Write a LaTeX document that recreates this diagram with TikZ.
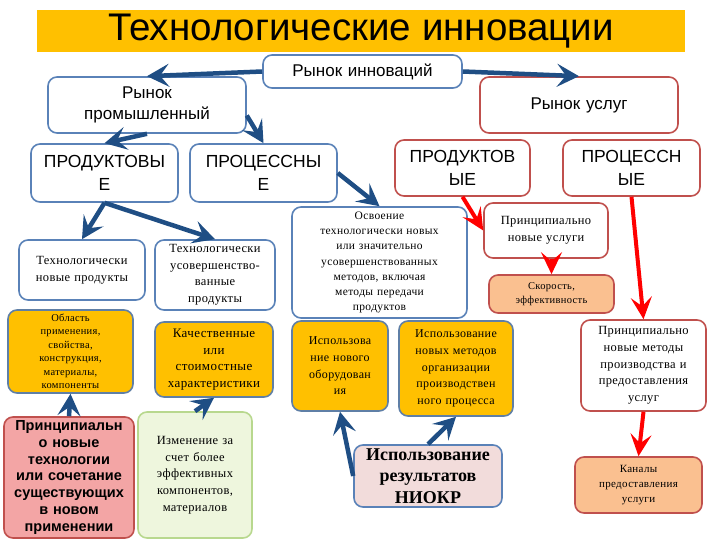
\documentclass[tikz,border=0pt]{standalone}
\usepackage{fontspec}
\setmainfont[LetterSpace=3]{Liberation Serif}
\setsansfont{Liberation Sans}
\usetikzlibrary{arrows.meta}

\definecolor{bordblue}{HTML}{5A82B8}
\definecolor{bordred}{HTML}{C0504D}
\definecolor{bordgray}{HTML}{5F7FA6}
\definecolor{arrowblue}{HTML}{1F4E84}
\definecolor{boxyellow}{HTML}{FFC000}
\definecolor{boxorange}{HTML}{FAC090}
\definecolor{boxpink}{HTML}{F2DCDB}
\definecolor{boxsalmon}{HTML}{F3A5A5}
\definecolor{boxgreen}{HTML}{EEF6DD}
\definecolor{bordgreen}{HTML}{B8D88E}

\begin{document}
\begin{tikzpicture}[
  x=1pt, y=-1pt,
  every node/.style={align=center, inner xsep=3pt, inner ysep=2pt},
  box/.style={draw, rounded corners=9pt, line width=1.6pt, fill=white},
  blbox/.style={box, draw=bordblue},
  rdbox/.style={box, draw=bordred},
  ylbox/.style={box, draw=bordgray, fill=boxyellow},
  orbox/.style={box, draw=bordred, fill=boxorange},
  blarrow/.style={-{Stealth[length=22pt, width=23pt, inset=9pt]}, line width=4.5pt, draw=arrowblue},
  rdarrow/.style={-{Stealth[length=22pt, width=21pt, inset=9pt]}, line width=4pt, draw=red}
]
\useasboundingbox (0,0) rectangle (720,540);

% Title
\fill[boxyellow] (37,10) rectangle (685,52);
\node[font=\sffamily\fontsize{38.5}{40}\selectfont] (title) at (361,31) {Технологические инновации};

% Markets
\node[blbox, text width=193pt, minimum height=33pt, font=\sffamily\fontsize{17}{20}\selectfont] (rinn) at (362.5,71.5) {Рынок инноваций};
\node[blbox, text width=192pt, minimum height=56pt, font=\sffamily\fontsize{17}{21}\selectfont] (rprom) at (147,105) {Рынок\\промышленный};
\node[rdbox, text width=192pt, minimum height=56pt, font=\sffamily\fontsize{17}{21}\selectfont] (ruslug) at (579,105) {Рынок услуг};

% Types
\node[blbox, text width=141pt, minimum height=58pt, font=\sffamily\fontsize{17.5}{23}\selectfont] (prodL) at (104.5,173) {ПРОДУКТОВЫ\\Е};
\node[blbox, text width=141pt, minimum height=58pt, font=\sffamily\fontsize{17.5}{23}\selectfont] (procL) at (263.5,173) {ПРОЦЕССНЫ\\Е};
\node[rdbox, text width=129pt, minimum height=56pt, font=\sffamily\fontsize{17.5}{23}\selectfont] (prodR) at (462.5,168) {ПРОДУКТОВ\\ЫЕ};
\node[rdbox, text width=131pt, minimum height=56pt, font=\sffamily\fontsize{17.5}{23}\selectfont] (procR) at (631.5,168) {ПРОЦЕССН\\ЫЕ};

% Product branch
\node[blbox, text width=120pt, minimum height=60pt, font=\fontsize{12.5}{17}\selectfont] (tnew) at (82,270) {Технологически\\новые продукты};
\node[blbox, text width=114pt, minimum height=70pt, font=\fontsize{12.5}{16.5}\selectfont] (tuso) at (215,275) {Технологически\\усовершенство-\\ванные\\продукты};
\node[ylbox, text width=119pt, minimum height=83pt, font=\fontsize{10.5}{13.5}\selectfont] (obl) at (70.5,351.5) {Область\\применения,\\свойства,\\конструкция,\\материалы,\\компоненты};
\node[ylbox, text width=112pt, minimum height=75pt, font=\fontsize{13}{16.5}\selectfont] (kach) at (214,359.5) {Качественные\\или\\стоимостные\\характеристики};
\node[box, draw=bordred, fill=boxsalmon, text width=124pt, minimum height=121pt, font=\sffamily\bfseries\fontsize{14.5}{16.7}\selectfont] (ptech) at (69,477.5) {Принципиальн\\о новые\\технологии\\или сочетание\\существующих\\в новом\\применении};
\node[box, draw=bordgreen, fill=boxgreen, text width=108pt, minimum height=126pt, font=\fontsize{12.5}{16.7}\selectfont] (izm) at (195,475) {Изменение за\\счет более\\эффективных\\компонентов,\\материалов};

% Process branch
\node[blbox, text width=169pt, minimum height=111pt, font=\fontsize{11.5}{15.3}\selectfont] (osv) at (379.5,262.5) {Освоение\\технологически новых\\или значительно\\усовершенствованных\\методов, включая\\методы передачи\\продуктов};
\node[ylbox, text width=90pt, minimum height=90pt, font=\fontsize{12}{16.7}\selectfont] (isnov) at (340,366) {Использова\\ние нового\\оборудован\\ия};
\node[ylbox, text width=108pt, minimum height=95pt, font=\fontsize{12}{16.7}\selectfont] (ismet) at (456,368.5) {Использование\\новых методов\\организации\\производствен\\ного процесса};
\node[box, draw=bordblue, fill=boxpink, text width=142pt, minimum height=62pt, font=\bfseries\fontsize{18}{21.5}\selectfont\addfontfeature{LetterSpace=0}] (niokr) at (428,476) {Использование\\результатов\\НИОКР};

% Services branch
\node[rdbox, text width=118pt, minimum height=55pt, font=\fontsize{12.5}{17}\selectfont] (pnu) at (546,230.5) {Принципиально\\новые услуги};
\node[orbox, text width=119pt, minimum height=38pt, font=\fontsize{10.5}{13.5}\selectfont] (skor) at (551.5,294) {Скорость,\\эффективность};
\node[rdbox, text width=119pt, minimum height=91pt, font=\fontsize{12.5}{16.7}\selectfont] (pnm) at (643.5,365.5) {Принципиально\\новые методы\\производства и\\предоставления\\услуг};
\node[orbox, text width=121pt, minimum height=56pt, font=\fontsize{11}{15}\selectfont] (kan) at (638.5,485) {Каналы\\предоставления\\услуги};

% Edges
\draw[blarrow] (rinn.west) -- (rprom.north);
\draw[blarrow] (rinn.east) -- (ruslug.north);
\draw[blarrow] (rprom.south) -- (prodL.north);
\draw[blarrow] (rprom.-6) -- (procL.north);
\draw[blarrow] (prodL.south) -- (tnew.north);
\draw[blarrow] (prodL.south) -- (tuso.north);
\draw[blarrow] (procL.east) -- (osv.north);
\draw[blarrow] (ptech.north) -- (obl.south);
\draw[blarrow] (izm.north) -- (kach.south);
\draw[blarrow] (niokr.west) -- (isnov.south);
\draw[blarrow] (niokr.north) -- (ismet.south);

% Services edges
\draw[rdarrow] (prodR.south) -- (pnu.west);
\draw[rdarrow] (skor.north |- pnu.south) -- (skor.north);
\draw[rdarrow] (procR.south) -- (pnm.north);
\draw[rdarrow] (pnm.south) -- (kan.north);
\end{tikzpicture}
\end{document}
